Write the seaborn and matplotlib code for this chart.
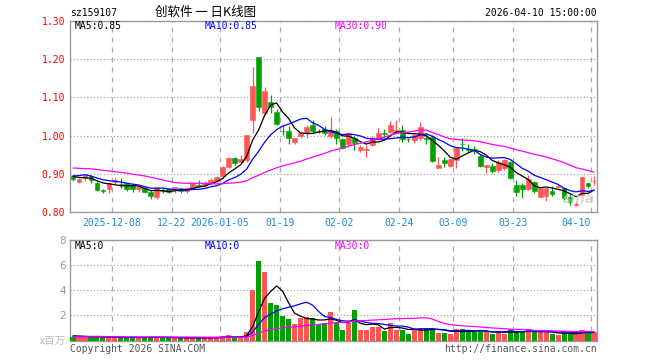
import numpy as np
import pandas as pd
import matplotlib
matplotlib.use("Agg")
import matplotlib.pyplot as plt
import seaborn as sns

# ---------------- data ----------------
start_date, end_date = "2025-11-27", "2026-04-10"
holidays = ["2026-01-01", "2026-01-02", "2026-02-16", "2026-02-17", "2026-02-18",
            "2026-02-19", "2026-02-20", "2026-02-23", "2026-04-06"]

open_ = [0.893, 0.878, 0.889, 0.895, 0.877, 0.857, 0.859, 0.878, 0.872, 0.875,
         0.871, 0.859, 0.864, 0.853, 0.840, 0.858, 0.861, 0.859, 0.863, 0.855,
         0.863, 0.871, 0.871, 0.875, 0.881, 0.894, 0.919, 0.942, 0.932, 0.936,
         1.041, 1.205, 1.058, 1.089, 1.063, 1.013, 1.012, 0.982, 0.999, 1.008,
         1.028, 1.013, 1.017, 0.999, 1.012, 0.991, 0.978, 0.993, 0.962, 0.963,
         0.975, 0.995, 1.007, 1.010, 1.013, 1.015, 0.992, 0.988, 0.993, 0.994,
         0.997, 0.916, 0.936, 0.921, 0.936, 0.979, 0.965, 0.964, 0.947, 0.919,
         0.920, 0.910, 0.914, 0.930, 0.871, 0.871, 0.859, 0.879, 0.840, 0.842,
         0.855, 0.865, 0.862, 0.840, 0.819, 0.845, 0.875, 0.880]
high = [0.897, 0.888, 0.897, 0.897, 0.880, 0.860, 0.879, 0.889, 0.889, 0.877,
        0.875, 0.868, 0.866, 0.858, 0.865, 0.865, 0.863, 0.866, 0.864, 0.866,
        0.877, 0.884, 0.880, 0.888, 0.894, 0.920, 0.945, 0.945, 0.949, 1.002,
        1.180, 1.205, 1.128, 1.106, 1.069, 1.028, 1.025, 0.995, 1.013, 1.028,
        1.041, 1.017, 1.025, 1.050, 1.017, 0.995, 1.008, 0.999, 0.975, 0.975,
        0.999, 1.019, 1.017, 1.038, 1.040, 1.028, 0.995, 1.003, 1.035, 1.006,
        1.002, 0.945, 0.943, 0.940, 0.971, 0.995, 0.977, 0.973, 0.952, 0.923,
        0.929, 0.936, 0.938, 0.934, 0.884, 0.875, 0.897, 0.881, 0.865, 0.864,
        0.868, 0.871, 0.865, 0.847, 0.827, 0.891, 0.875, 0.894]
low = [0.880, 0.875, 0.882, 0.875, 0.856, 0.850, 0.849, 0.873, 0.862, 0.855,
       0.853, 0.853, 0.849, 0.835, 0.835, 0.849, 0.850, 0.851, 0.849, 0.851,
       0.861, 0.866, 0.866, 0.871, 0.879, 0.888, 0.914, 0.923, 0.927, 0.932,
       1.008, 1.064, 1.054, 1.060, 1.028, 1.002, 0.979, 0.979, 0.995, 0.995,
       1.008, 1.006, 1.002, 0.993, 0.978, 0.964, 0.971, 0.961, 0.958, 0.945,
       0.973, 0.988, 0.995, 1.006, 1.008, 0.982, 0.983, 0.980, 0.988, 0.978,
       0.932, 0.914, 0.917, 0.917, 0.916, 0.960, 0.958, 0.951, 0.917, 0.902,
       0.903, 0.906, 0.910, 0.887, 0.842, 0.837, 0.858, 0.851, 0.838, 0.830,
       0.842, 0.862, 0.831, 0.818, 0.816, 0.842, 0.862, 0.871]
close = [0.886, 0.886, 0.896, 0.884, 0.858, 0.856, 0.875, 0.884, 0.870, 0.859,
         0.859, 0.866, 0.853, 0.843, 0.862, 0.856, 0.852, 0.865, 0.854, 0.864,
         0.875, 0.869, 0.877, 0.884, 0.891, 0.919, 0.942, 0.927, 0.940, 1.001,
         1.131, 1.076, 1.117, 1.074, 1.030, 1.011, 0.993, 0.993, 1.007, 1.023,
         1.012, 1.011, 1.008, 1.015, 0.995, 0.968, 1.006, 0.980, 0.971, 0.964,
         0.995, 1.006, 1.005, 1.028, 1.015, 0.990, 0.990, 1.002, 1.022, 0.992,
         0.934, 0.923, 0.929, 0.938, 0.967, 0.977, 0.963, 0.962, 0.921, 0.922,
         0.907, 0.932, 0.936, 0.890, 0.853, 0.861, 0.886, 0.855, 0.864, 0.862,
         0.847, 0.868, 0.836, 0.827, 0.821, 0.891, 0.868, 0.882]
volume = [0.30, 0.25, 0.28, 0.27, 0.30, 0.22, 0.26, 0.25, 0.22, 0.24,
          0.26, 0.23, 0.25, 0.28, 0.27, 0.22, 0.20, 0.22, 0.21, 0.20,
          0.23, 0.20, 0.22, 0.25, 0.27, 0.32, 0.40, 0.19, 0.27, 0.64,
          4.03, 6.34, 5.49, 3.02, 2.84, 1.96, 1.72, 1.33, 1.83, 1.91,
          1.78, 1.30, 1.38, 2.23, 1.38, 0.85, 1.38, 2.44, 0.80, 0.80,
          1.11, 1.11, 0.72, 1.43, 0.85, 0.85, 0.53, 0.85, 1.03, 0.93,
          1.03, 0.58, 0.58, 0.53, 0.93, 0.93, 0.64, 0.64, 0.85, 0.72,
          0.53, 0.64, 0.53, 0.90, 0.72, 0.72, 0.90, 0.72, 0.64, 0.64,
          0.53, 0.45, 0.64, 0.58, 0.48, 0.85, 0.77, 0.64]
# closes / volumes of the 29 sessions before the window (for the moving averages)
prior_close = [0.91, 0.92, 0.90, 0.91, 0.92, 0.93, 0.94, 0.92, 0.93, 0.94,
               0.93, 0.92, 0.95, 0.96, 0.97, 0.96, 0.95, 0.90, 0.88, 0.87,
               0.88, 0.87, 0.92, 0.91, 0.90, 0.90, 0.90, 0.89, 0.89]
prior_volume = [0.28, 0.30, 0.26, 0.27, 0.29, 0.25, 0.28, 0.30, 0.27, 0.26,
                0.28, 0.29, 0.27, 0.26, 0.30, 0.28, 0.27, 0.26, 0.29, 0.28,
                0.27, 0.30, 0.28, 0.26, 0.29, 0.36, 0.40, 0.38, 0.42]

tick_dates = ["2025-12-08", "2025-12-22", "2026-01-05", "2026-01-19", "2026-02-02",
              "2026-02-24", "2026-03-09", "2026-03-23", "2026-04-10"]
tick_labels = ["2025-12-08", "12-22", "2026-01-05", "01-19", "02-02",
               "02-24", "03-09", "03-23", "04-10"]
price_ticks = [0.80, 0.90, 1.00, 1.10, 1.20, 1.30]
vol_ticks = [2, 4, 6, 8]
price_legend = ["MA5:0.85", "MA10:0.85", "MA30:0.90"]
vol_legend = ["MA5:0", "MA10:0", "MA30:0"]
code = "sz159107"
title = "创软件 一 日K线图"
stamp = "2026-04-10 15:00:00"

# ---------------- derived ----------------
dates = pd.bdate_range(start_date, end_date)
dates = dates[~dates.isin(pd.to_datetime(holidays))]
n = len(dates)
x = np.arange(n)
o, h, l, c, v = map(np.array, (open_, high, low, close, volume))
tick_pos = [dates.get_loc(pd.Timestamp(d)) - 0.5 for d in tick_dates]

pc = pd.Series(prior_close + close)
pv = pd.Series(prior_volume + volume)
k = len(prior_close)
ma_c = {w: pc.rolling(w).mean().values[k:] for w in (5, 10, 30)}
ma_v = {w: pv.rolling(w).mean().values[k:] for w in (5, 10, 30)}

RED, GREEN = "#ff5555", "#00a000"
MA_COLORS = {5: "black", 10: "#0000ff", 30: "#ff00ff"}
cols = np.where(c >= o, RED, GREEN)

# ---------------- style ----------------
sns.set_theme(style="white")
plt.rcParams["font.family"] = ["DejaVu Sans Mono", "Noto Sans CJK SC"]
MONO = dict(family=["DejaVu Sans Mono"], size=7)

W, H = 660, 360
fig = plt.figure(figsize=(6.6, 3.6), dpi=100)
ax1 = fig.add_axes([70 / W, 1 - 212 / H, 527 / W, 191 / H])
ax2 = fig.add_axes([70 / W, 1 - 340.5 / H, 527 / W, 100.5 / H])

# candles
ax1.vlines(x, l, h, colors=cols, lw=0.9, zorder=3)
ax1.bar(x, np.maximum(np.abs(c - o), 0.0012), bottom=np.minimum(o, c), width=0.8,
        color=cols, edgecolor=cols, linewidth=0.4, zorder=4)
for w in (5, 10, 30):
    sns.lineplot(x=x, y=ma_c[w], ax=ax1, color=MA_COLORS[w], lw=0.9, zorder=5)

# volume
ax2.bar(x, v, width=0.85, color=cols, linewidth=0, zorder=3)
for w in (5, 10, 30):
    sns.lineplot(x=x, y=ma_v[w], ax=ax2, color=MA_COLORS[w], lw=0.9, zorder=5)

for ax in (ax1, ax2):
    ax.set_xlim(-0.5, n - 0.5)
    ax.set_xticks(tick_pos)
    ax.grid(axis="x", color="#aaaaaa", linestyle=(0, (4, 4)), lw=0.9)
    ax.grid(axis="y", color="#999999", linestyle=(0, (1, 2)), lw=0.8)
    ax.tick_params(length=0)
    for s in ax.spines.values():
        s.set_color("#999999")
        s.set_linewidth(1.0)
    ax.set_xlabel("")
    ax.set_ylabel("")

ax1.set_ylim(0.80, 1.30)
ax1.set_yticks(price_ticks)
ax1.set_yticklabels([f"{t:.2f}" for t in price_ticks], color="red", **MONO)
ax1.tick_params(axis="y", pad=3.5)
ax1.set_xticklabels(tick_labels, color="#1a88d8", **MONO)
ax1.tick_params(axis="x", pad=4)
ax1.get_xticklabels()[-1].set_ha("right")

ax2.set_ylim(0, 8)
ax2.set_yticks(vol_ticks)
ax2.set_yticklabels([str(t) for t in vol_ticks], color="#999999",
                    family=["DejaVu Sans"], size=7.5)
ax2.tick_params(axis="y", pad=3)
ax2.set_xticklabels([])

# texts
fig.text(70 / W, 1 - 13 / H, code, ha="left", va="center", color="black", **MONO)
fig.text(206 / W, 1 - 12 / H, title, ha="center", va="center", color="black",
         family=["Noto Sans CJK SC"], size=9)
fig.text(597 / W, 1 - 13 / H, stamp, ha="right", va="center", color="black", **MONO)
for xx, txt, w in zip((75, 205, 335), price_legend, (5, 10, 30)):
    fig.text(xx / W, 1 - 26 / H, txt, ha="left", va="center", color=MA_COLORS[w], **MONO)
for xx, txt, w in zip((75, 205, 335), vol_legend, (5, 10, 30)):
    fig.text(xx / W, 1 - 246 / H, txt, ha="left", va="center", color=MA_COLORS[w], **MONO)
fig.text(66 / W, 1 - 341 / H, "x百万", ha="right", va="center", color="#bbbbbb",
         family=["Noto Sans CJK SC"], size=7.5)
fig.text(70 / W, 1 - 349 / H, "Copyright 2026 SINA.COM", ha="left", va="center",
         color="#555555", **MONO)
fig.text(597 / W, 1 - 349 / H, "http://finance.sina.com.cn", ha="right", va="center",
         color="#555555", **MONO)
ax1.text(0.965, 0.07, "sina", transform=ax1.transAxes, ha="center", va="center",
         color="#c8c8c8", alpha=0.7, style="italic", weight="bold",
         family=["DejaVu Sans"], size=10, zorder=6)

fig.savefig("out.png", dpi=100, facecolor="white")
